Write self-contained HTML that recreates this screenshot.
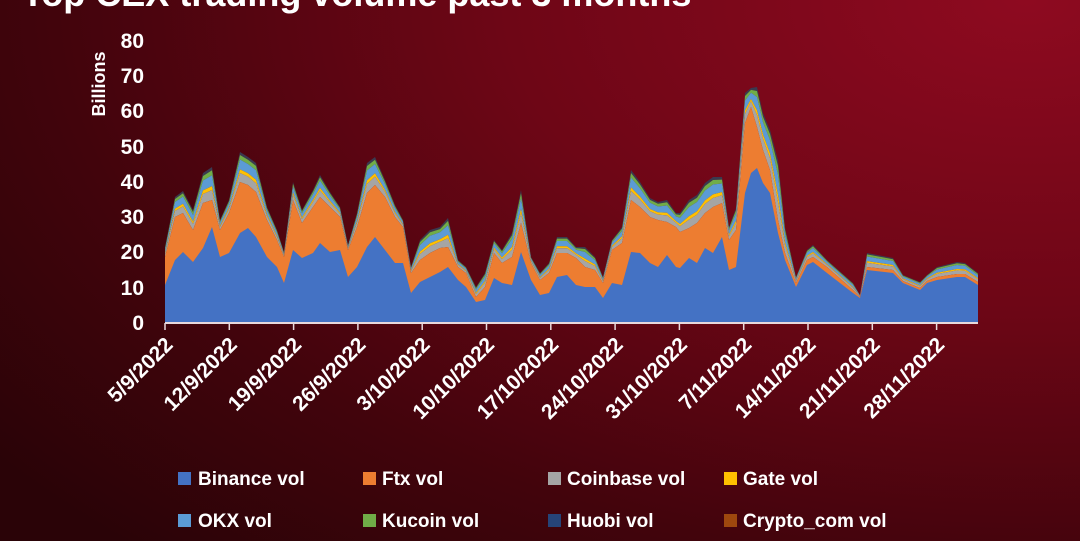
<!DOCTYPE html>
<html><head><meta charset="utf-8"><style>
html,body{margin:0;padding:0;}
body{width:1080px;height:541px;overflow:hidden;background:radial-gradient(ellipse 120% 140% at 95% 0%,#8e0a20 0%,#6e0616 40%,#42040c 75%,#2a0307 100%);font-family:"Liberation Sans",sans-serif;}
svg{position:absolute;left:0;top:0}
</style></head><body>
<svg id="s" width="1080" height="541" xmlns="http://www.w3.org/2000/svg">
<text x="22" y="6" fill="#fff" font-size="36" font-weight="bold" font-family="Liberation Sans, sans-serif">Top CEX trading volume past 3 months</text>
<g fill="#fff" font-size="21" font-weight="bold" text-anchor="end" font-family="Liberation Sans, sans-serif">
<text x="144" y="330">0</text><text x="144" y="295">10</text><text x="144" y="259">20</text><text x="144" y="224">30</text><text x="144" y="189">40</text><text x="144" y="154">50</text><text x="144" y="118">60</text><text x="144" y="83">70</text><text x="144" y="48">80</text>
</g>
<text transform="translate(105,84) rotate(-90)" fill="#fff" font-size="18" font-weight="bold" text-anchor="middle" font-family="Liberation Sans, sans-serif">Billions</text>
<g id="areas"></g>
<line x1="165" y1="323" x2="978" y2="323" stroke="#e8d8dc" stroke-width="2"/>
<g id="ticks" stroke="#e8d8dc" stroke-width="1.5"></g>
<g id="xl" fill="#fff" font-size="21" font-weight="bold" text-anchor="end" font-family="Liberation Sans, sans-serif"></g>
<g font-size="19" font-weight="bold" fill="#fff" font-family="Liberation Sans, sans-serif">
<rect x="178" y="472" width="13" height="13" fill="#4472c4"/><text x="198" y="485">Binance vol</text>
<rect x="363" y="472" width="13" height="13" fill="#ed7d31"/><text x="382" y="485">Ftx vol</text>
<rect x="548" y="472" width="13" height="13" fill="#a5a5a5"/><text x="567" y="485">Coinbase vol</text>
<rect x="724" y="472" width="13" height="13" fill="#ffc000"/><text x="743" y="485">Gate vol</text>
<rect x="178" y="514" width="13" height="13" fill="#5b9bd5"/><text x="198" y="527">OKX vol</text>
<rect x="363" y="514" width="13" height="13" fill="#70ad47"/><text x="382" y="527">Kucoin vol</text>
<rect x="548" y="514" width="13" height="13" fill="#264478"/><text x="567" y="527">Huobi vol</text>
<rect x="724" y="514" width="13" height="13" fill="#9e480e"/><text x="743" y="527">Crypto_com vol</text>
</g>
</svg>
<script>
var P=[[165,285,257,247],[175,260,217,197],[183,252,213,191],[193,262,230,210],[203,248,203,173],[212,227,200,167],[220,257,230,220],[229,253,213,200],[240,233,182,152],[248,228,185,157],[256,237,192,163],[267,257,220,207],[277,267,240,230],[284,283,257,252],[293,250,200,182],[302,258,223,210],[313,253,207,190],[320,243,197,175],[330,252,207,192],[340,250,217,207],[348,277,250,245],[357,267,227,213],[367,247,193,163],[375,237,185,157],[385,250,197,180],[395,263,217,205],[403,263,227,220],[411,293,273,267],[420,282,260,240],[430,277,253,230],[440,272,248,227],[448,267,247,218],[458,280,267,260],[466,287,273,267],[476,302,297,287],[485,300,287,273],[494,278,253,240],[502,283,263,250],[512,285,257,233],[521,252,223,190],[531,280,263,257],[540,295,280,273],[549,293,273,263],[557,277,253,237],[567,275,253,237],[576,285,258,247],[585,287,267,247],[595,287,270,257],[603,298,283,277],[612,283,250,240],[622,285,243,227],[631,252,200,170],[640,253,207,182],[650,263,217,198],[658,267,220,202],[667,255,222,200],[676,267,227,213],[680,268,232,213],[689,258,228,200],[697,263,223,195],[705,248,213,183],[713,253,207,177],[722,237,203,177],[729,270,240,227],[736,267,230,208],[745,193,123,93],[751,173,107,88],[757,168,127,87],[763,183,150,113],[770,193,170,130],[778,233,220,160],[785,260,253,227],[796,287,283,277],[807,265,260,250],[813,262,257,245],[827,273,267,260],[853,293,290,283],[860,298,297,295],[867,270,267,253],[893,273,270,258],[903,283,281,275],[920,290,288,282],[927,283,281,275],[937,280,277,267],[957,277,274,262],[965,277,274,263],[978,285,282,273]];
var ns="http://www.w3.org/2000/svg";
function band(fa,fb,col){var top=[],bot=[];P.forEach(function(p){var g=p[2]-p[3];top.push(p[0]+","+(p[2]-g*fb).toFixed(1));bot.unshift(p[0]+","+(p[2]-g*fa).toFixed(1));});var e=document.createElementNS(ns,"polygon");e.setAttribute("points",top.concat(bot).join(" "));e.setAttribute("fill",col);document.getElementById("areas").appendChild(e);}
function poly(idx,col){var pts=P.map(function(p){return p[0]+","+p[idx]});pts.push("978,323","165,323");var e=document.createElementNS(ns,"polygon");e.setAttribute("points",pts.join(" "));e.setAttribute("fill",col);document.getElementById("areas").appendChild(e);}
band(0.9,1,"#3a3a50");band(0.75,0.9,"#70ad47");band(0.42,0.75,"#5b9bd5");band(0.3,0.42,"#ffc000");band(0,0.3,"#a5a5a5");
poly(2,"#ed7d31");poly(1,"#4472c4");
var L=["5/9/2022","12/9/2022","19/9/2022","26/9/2022","3/10/2022","10/10/2022","17/10/2022","24/10/2022","31/10/2022","7/11/2022","14/11/2022","21/11/2022","28/11/2022"];
L.forEach(function(t,i){var x=165+i*64.3;var l=document.createElementNS(ns,"line");l.setAttribute("x1",x);l.setAttribute("x2",x);l.setAttribute("y1",323);l.setAttribute("y2",330);document.getElementById("ticks").appendChild(l);var e=document.createElementNS(ns,"text");e.setAttribute("transform","translate("+(x+9)+",346) rotate(-45)");e.textContent=t;document.getElementById("xl").appendChild(e);});
</script>
</body></html>
